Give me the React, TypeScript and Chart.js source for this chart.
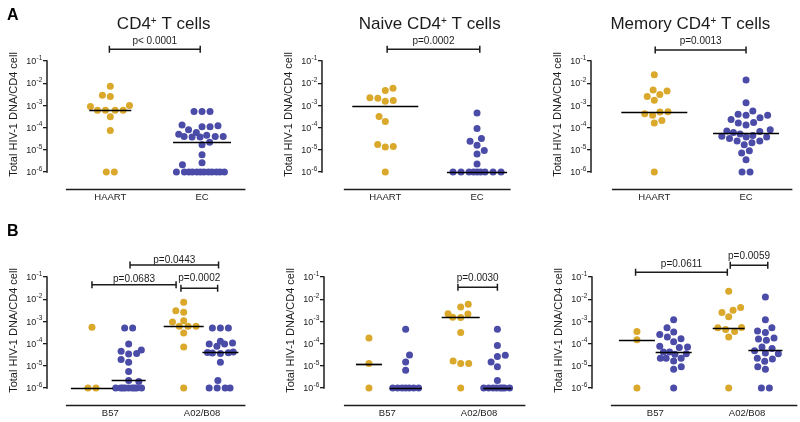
import React, { useEffect, useRef } from 'react';
import { Chart, registerables } from 'chart.js';

Chart.register(...registerables);

// ---------------- data ----------------
const Y_TICKS = [1e-1, 1e-2, 1e-3, 1e-4, 1e-5, 1e-6];
const Y_TITLE = 'Total HIV-1 DNA/CD4 cell';
const A_CATEGORIES = ['HAART', 'EC'];
const B_CATEGORIES = ['B57', 'A02/B08'];
const PANEL_TITLES = ['CD4+ T cells', 'Naive CD4+ T cells', 'Memory CD4+ T cells'];
const PANEL_LETTERS = ['A', 'B'];

const A_P = ['p< 0.0001', 'p=0.0002', 'p=0.0013'];
const B1_P = ['p=0.0683', 'p=0.0002', 'p=0.0443'];
const B2_P = ['p=0.0030'];
const B3_P = ['p=0.0611', 'p=0.0059'];

// Panel A – total CD4
const A1_HAART = [7.2e-3, 2.9e-3, 2.5e-3, 1.0e-3, 9e-4, 6e-4, 6e-4, 6e-4, 6e-4, 3.1e-4, 7.4e-5, 1e-6, 1e-6];
const A1_EC = [5.3e-4, 5.3e-4, 5.3e-4, 1.3e-4, 1.2e-4, 1.1e-4, 1.1e-4, 8e-5, 6e-5, 5e-5, 4.5e-5, 4e-5, 4e-5, 4e-5, 3.8e-5, 3.8e-5,
  2.2e-5, 1.7e-5, 6e-6, 2.6e-6, 2.1e-6, 1e-6, 1e-6, 1e-6, 1e-6, 1e-6, 1e-6, 1e-6, 1e-6, 1e-6, 1e-6, 1e-6, 1e-6];
// Panel A – naive
const A2_HAART = [5.9e-3, 4.7e-3, 2.2e-3, 2.1e-3, 1.65e-3, 1.55e-3, 3.2e-4, 1.9e-4, 1.75e-5, 1.4e-5, 1.35e-5, 1e-6];
const A2_EC = [4.6e-4, 9.1e-5, 3.2e-5, 2.4e-5, 1.6e-5, 9.3e-6, 6.5e-6, 2.3e-6, 1e-6, 1e-6, 1e-6, 1e-6, 1e-6, 1e-6, 1e-6, 1e-6, 1e-6];
// Panel A – memory
const A3_HAART = [2.4e-2, 4.9e-3, 4.4e-3, 3.1e-3, 2.5e-3, 1.7e-3, 5.2e-4, 5.0e-4, 4.2e-4, 3.6e-4, 2.1e-4, 1.6e-4, 1e-6];
const A3_EC = [1.4e-2, 1.3e-3, 5.6e-4, 4e-4, 3.6e-4, 3.6e-4, 2.8e-4, 2.3e-4, 1.7e-4, 1.6e-4, 1.3e-4, 8e-5, 7e-5, 6.6e-5, 6e-5,
  5.2e-5, 4.4e-5, 4.1e-5, 3.8e-5, 3.8e-5, 3.2e-5, 2.5e-5, 2.5e-5, 2.1e-5, 1.7e-5, 9e-6, 7.2e-6, 3.6e-6, 1e-6, 1e-6];

// Panel B – total CD4
const B1_B57_HAART = [5.4e-4, 1e-6, 1e-6];
const B1_B57_EC = [5e-4, 5e-4, 9.5e-5, 5.1e-5, 4.5e-5, 3.6e-5, 3.4e-5, 1.9e-5, 1.45e-5, 5.5e-6, 2.2e-6, 1.95e-6,
  1e-6, 1e-6, 1e-6, 1e-6, 1e-6, 1e-6, 1e-6, 1e-6, 1e-6];
const B1_A02_HAART = [7.2e-3, 3e-3, 2.6e-3, 1.07e-3, 9.3e-4, 6e-4, 6e-4, 6e-4, 3e-4, 7e-5, 1e-6];
const B1_A02_EC = [5e-4, 5e-4, 5e-4, 1.26e-4, 1.07e-4, 9.5e-5, 9.5e-5, 7.6e-5, 4.2e-5, 4e-5, 3.9e-5, 3.8e-5, 3.6e-5, 1.45e-5,
  2.2e-6, 1e-6, 1e-6, 1e-6, 1e-6];
// Panel B – naive
const B2_B57_HAART = [1.8e-4, 1.26e-5, 1e-6];
const B2_B57_EC = [4.4e-4, 3.1e-5, 1.5e-5, 6.3e-6, 1e-6, 1e-6, 1e-6, 1e-6, 1e-6, 1e-6, 1e-6];
const B2_A02_HAART = [5.9e-3, 4.5e-3, 2.2e-3, 2.15e-3, 1.55e-3, 1.5e-3, 3.2e-4, 1.65e-5, 1.26e-5, 1.26e-5, 1e-6];
const B2_A02_EC = [4.4e-4, 8.3e-5, 3e-5, 2.6e-5, 1.5e-5, 9e-6, 2.2e-6, 1e-6, 1e-6, 1e-6, 1e-6, 1e-6, 1e-6, 1e-6, 1e-6];
// Panel B – memory
const B3_B57_HAART = [3.5e-4, 1.5e-4, 1e-6];
const B3_B57_EC = [1.2e-3, 5.2e-4, 3.3e-4, 2.6e-4, 2e-4, 1.66e-4, 1.2e-4, 7.6e-5, 7e-5, 6.6e-5, 4.2e-5, 4.2e-5, 3.5e-5, 3.3e-5,
  2.2e-5, 2.2e-5, 2.2e-5, 1.65e-5, 9e-6, 7e-6, 1e-6];
const B3_A02_HAART = [2.3e-2, 4.2e-3, 3.2e-3, 2.5e-3, 1.6e-3, 5.3e-4, 5.2e-4, 4.3e-4, 3.5e-4, 2e-4, 1e-6];
const B3_A02_EC = [1.26e-2, 1.2e-3, 5.2e-4, 3.7e-4, 3.2e-4, 1.8e-4, 1.6e-4, 1.4e-4, 7e-5, 6e-5, 4.8e-5, 3.8e-5, 3.5e-5,
  2.2e-5, 2e-5, 1.6e-5, 9e-6, 7e-6, 1e-6, 1e-6];

// ---------------- style / layout ----------------
const FONT = '"Liberation Sans", Arial, Helvetica, sans-serif';
const GOLD = '#DAA82B';
const BLUE = '#4B4BA8';
const INK = '#1c1c1c';

const W = 256;        // canvas width
const AX = 47;        // y axis x (local)
const TOP = 61;       // pixel of 1e-1
const BOTTOM = 189;   // pixel of x-axis line
const XH = 17;        // x scale height
const UNIT = 93;      // px per category
const X_MIN = -0.69;
const X_MAX = 1.55;
const Y_MIN_EXP = -6.766;
const DOT_R = 3.5;
const DOT_GAP = 8;

type Col = { values: number[]; x: number; color: string; half: number };
type Br = { x0: number; x1: number; y: number; ty: number; label: string };
type Panel = {
  left: number; top: number; height: number;
  letter: string | null; title: string | null; titleX: number;
  categories: string[]; columns: Col[]; brackets: Br[];
  ext: [number, number]; swarmHalf: number;
};

const PANELS: Panel[] = [
  {
    left: 0, top: 0, height: 210, letter: PANEL_LETTERS[0], title: PANEL_TITLES[0], titleX: 163.7,
    categories: A_CATEGORIES,
    columns: [
      { values: A1_HAART, x: 0, color: GOLD, half: 21 },
      { values: A1_EC, x: 1, color: BLUE, half: 29 },
    ],
    brackets: [{ x0: -0.01, x1: 0.98, y: 49.3, ty: 41.7, label: A_P[0] }],
    ext: [-0.484, 1.473], swarmHalf: 24,
  },
  {
    left: 275, top: 0, height: 210, letter: null, title: PANEL_TITLES[1], titleX: 154.7,
    categories: A_CATEGORIES,
    columns: [
      { values: A2_HAART, x: 0, color: GOLD, half: 33 },
      { values: A2_EC, x: 1, color: BLUE, half: 30 },
    ],
    brackets: [{ x0: 0.02, x1: 1.03, y: 49.3, ty: 41.7, label: A_P[1] }],
    ext: [-0.452, 1.366], swarmHalf: 24,
  },
  {
    left: 544, top: 0, height: 210, letter: null, title: PANEL_TITLES[2], titleX: 146.3,
    categories: A_CATEGORIES,
    columns: [
      { values: A3_HAART, x: 0, color: GOLD, half: 33 },
      { values: A3_EC, x: 1, color: BLUE, half: 33 },
    ],
    brackets: [{ x0: 0.01, x1: 1.0, y: 50, ty: 41.7, label: A_P[2] }],
    ext: [-0.462, 1.505], swarmHalf: 25,
  },
  {
    left: 0, top: 216, height: 206, letter: PANEL_LETTERS[1], title: null, titleX: 0,
    categories: B_CATEGORIES,
    columns: [
      { values: B1_B57_HAART, x: -0.2, color: GOLD, half: 21 },
      { values: B1_B57_EC, x: 0.2, color: BLUE, half: 17 },
      { values: B1_A02_HAART, x: 0.8, color: GOLD, half: 20 },
      { values: B1_A02_EC, x: 1.2, color: BLUE, half: 18 },
    ],
    brackets: [
      { x0: -0.2, x1: 0.717, y: 68.7, ty: 63, label: B1_P[0] },
      { x0: 0.77, x1: 1.17, y: 72.3, ty: 62.3, label: B1_P[1] },
      { x0: 0.215, x1: 1.18, y: 49, ty: 44.5, label: B1_P[2] },
    ],
    ext: [-0.484, 1.473], swarmHalf: 13,
  },
  {
    left: 277, top: 216, height: 206, letter: null, title: null, titleX: 0,
    categories: B_CATEGORIES,
    columns: [
      { values: B2_B57_HAART, x: -0.2, color: GOLD, half: 13 },
      { values: B2_B57_EC, x: 0.2, color: BLUE, half: 16 },
      { values: B2_A02_HAART, x: 0.8, color: GOLD, half: 19 },
      { values: B2_A02_EC, x: 1.2, color: BLUE, half: 14 },
    ],
    brackets: [{ x0: 0.77, x1: 1.2, y: 71.3, ty: 62.3, label: B2_P[0] }],
    ext: [-0.473, 1.505], swarmHalf: 13,
  },
  {
    left: 545, top: 216, height: 206, letter: null, title: null, titleX: 0,
    categories: B_CATEGORIES,
    columns: [
      { values: B3_B57_HAART, x: -0.2, color: GOLD, half: 18 },
      { values: B3_B57_EC, x: 0.2, color: BLUE, half: 18 },
      { values: B3_A02_HAART, x: 0.8, color: GOLD, half: 16 },
      { values: B3_A02_EC, x: 1.2, color: BLUE, half: 17 },
    ],
    brackets: [
      { x0: -0.215, x1: 0.785, y: 56.3, ty: 48, label: B3_P[0] },
      { x0: 0.817, x1: 1.226, y: 49.3, ty: 40.7, label: B3_P[1] },
    ],
    ext: [-0.484, 1.548], swarmHalf: 14,
  },
];

// ---------------- helpers ----------------
function median(vals: number[]): number {
  const s = [...vals].sort((a, b) => a - b);
  const n = s.length;
  return n % 2 ? s[(n - 1) / 2] : (s[n / 2 - 1] + s[n / 2]) / 2;
}

// beeswarm offsets (px) for points at pixel heights pys
function swarm(values: number[], pys: number[], d: number, maxHalf: number): number[] {
  const order = pys.map((_, i) => i).sort((a, b) => pys[b] - pys[a]);
  const placed: { x: number; y: number }[] = [];
  const out = new Array(pys.length).fill(0);
  for (const i of order) {
    const py = pys[i];
    let dd = d;
    let chosen: number | null = null;
    while (chosen === null) {
      const cands = [0];
      for (const q of placed) {
        const dy = Math.abs(q.y - py);
        if (dy < dd) {
          const dx = Math.sqrt(dd * dd - dy * dy);
          cands.push(q.x + dx, q.x - dx);
        }
      }
      const ok = cands.filter(
        (c) => Math.abs(c) <= maxHalf + 1e-6 &&
          placed.every((q) => (c - q.x) ** 2 + (py - q.y) ** 2 >= dd * dd - 1e-3)
      );
      if (ok.length) {
        const bal = placed.reduce((s, q) => s + q.x, 0);
        ok.sort((a, b) => {
          const da = Math.abs(a) - Math.abs(b);
          if (Math.abs(da) > 0.01) return da;
          return bal > 0 ? a - b : b - a;
        });
        chosen = ok[0];
      } else {
        dd *= 0.85;
        if (dd < 0.5) chosen = 0;
      }
    }
    placed.push({ x: chosen, y: py });
    out[i] = chosen;
  }
  // center rows of exact ties when possible
  const groups = new Map<number, number[]>();
  values.forEach((v, i) => { const g = groups.get(v) || []; g.push(i); groups.set(v, g); });
  groups.forEach((idx) => {
    if (idx.length < 2) return;
    const mean = idx.reduce((s, i) => s + out[i], 0) / idx.length;
    if (Math.abs(mean) < 0.01) return;
    const shifted = idx.map((i) => out[i] - mean);
    const others = out.map((x, k) => ({ x, y: pys[k], k })).filter((o) => !idx.includes(o.k));
    const clash = idx.some((i, j) => others.some((o) => (shifted[j] - o.x) ** 2 + (pys[i] - o.y) ** 2 < (d * 0.9) ** 2));
    if (!clash) idx.forEach((i, j) => { out[i] = shifted[j]; });
  });
  return out;
}

function makePlugin(p: Panel) {
  return {
    id: 'deco',
    afterDatasetsDraw(chart: any) {
      const ctx = chart.ctx as CanvasRenderingContext2D;
      const xs = chart.scales.x, ys = chart.scales.y;
      ctx.save();
      ctx.strokeStyle = '#000';
      ctx.lineWidth = 1.7;
      p.columns.forEach((c) => {
        const m = median(c.values);
        const py = Math.round(ys.getPixelForValue(m)) + 0.5;
        const px = xs.getPixelForValue(c.x);
        ctx.beginPath();
        ctx.moveTo(px - c.half, py);
        ctx.lineTo(px + c.half, py);
        ctx.stroke();
      });
      ctx.restore();
    },
    afterDraw(chart: any) {
      const ctx = chart.ctx as CanvasRenderingContext2D;
      const xs = chart.scales.x, ys = chart.scales.y;
      const ax = chart.chartArea.left;
      ctx.save();
      ctx.strokeStyle = INK;
      ctx.fillStyle = INK;
      // y axis line
      const yTop = ys.getPixelForValue(Y_TICKS[0]);
      const yBot = ys.getPixelForValue(Y_TICKS[Y_TICKS.length - 1]);
      ctx.lineWidth = 1.5;
      ctx.beginPath();
      ctx.moveTo(ax, yTop - 0.7);
      ctx.lineTo(ax, yBot + 0.7);
      ctx.stroke();
      // y tick labels 10^n
      Y_TICKS.forEach((v) => {
        const py = ys.getPixelForValue(v);
        const exp = String(Math.round(Math.log10(v)));
        ctx.font = `6.5px ${FONT}`;
        const we = ctx.measureText(exp).width;
        ctx.font = `9px ${FONT}`;
        const wb = ctx.measureText('10').width;
        const right = ax - 5;
        ctx.textAlign = 'left';
        ctx.textBaseline = 'middle';
        ctx.fillText('10', right - we - wb, py + 0.8);
        ctx.font = `6.5px ${FONT}`;
        ctx.fillText(exp, right - we + 0.3, py - 3);
      });
      // y title
      ctx.save();
      ctx.translate(ax - 33, (yTop + yBot) / 2 - 2);
      ctx.rotate(-Math.PI / 2);
      ctx.font = `11px ${FONT}`;
      ctx.textAlign = 'center';
      ctx.textBaseline = 'middle';
      ctx.fillText(Y_TITLE, 0, 0);
      ctx.restore();
      // x axis line
      const xl = Math.round(chart.chartArea.bottom) + 0.5;
      ctx.lineWidth = 1.5;
      ctx.beginPath();
      ctx.moveTo(xs.getPixelForValue(p.ext[0]), xl);
      ctx.lineTo(xs.getPixelForValue(p.ext[1]), xl);
      ctx.stroke();
      // brackets
      p.brackets.forEach((b) => {
        const x0 = xs.getPixelForValue(b.x0), x1 = xs.getPixelForValue(b.x1);
        ctx.lineWidth = 1.5;
        ctx.beginPath();
        ctx.moveTo(x0, b.y); ctx.lineTo(x1, b.y);
        ctx.moveTo(x0, b.y - 3.5); ctx.lineTo(x0, b.y + 3.5);
        ctx.moveTo(x1, b.y - 3.5); ctx.lineTo(x1, b.y + 3.5);
        ctx.stroke();
        ctx.font = `10px ${FONT}`;
        ctx.textAlign = 'center';
        ctx.textBaseline = 'middle';
        ctx.fillText(b.label, (x0 + x1) / 2, b.ty);
      });
      // title with superscript +
      if (p.title) {
        const k = p.title.indexOf('+');
        const a = p.title.slice(0, k), sup = '+', rest = p.title.slice(k + 1);
        ctx.font = `17px ${FONT}`;
        const wa = ctx.measureText(a).width, wr = ctx.measureText(rest).width;
        ctx.font = `10px ${FONT}`;
        const ws = ctx.measureText(sup).width;
        let x = p.titleX - (wa + ws + wr) / 2;
        ctx.textAlign = 'left';
        ctx.textBaseline = 'alphabetic';
        ctx.font = `17px ${FONT}`;
        ctx.fillText(a, x, 28.5);
        x += wa;
        ctx.font = `10px ${FONT}`;
        ctx.fillText(sup, x, 24);
        x += ws;
        ctx.font = `17px ${FONT}`;
        ctx.fillText(rest, x, 28.5);
      }
      if (p.letter) {
        ctx.font = `bold 16px ${FONT}`;
        ctx.textAlign = 'left';
        ctx.textBaseline = 'alphabetic';
        ctx.fillStyle = '#000';
        ctx.fillText(p.letter, 7, 19.5);
      }
      ctx.restore();
    },
  };
}

function PanelChart({ p }: { p: Panel }) {
  const ref = useRef<HTMLCanvasElement>(null);
  useEffect(() => {
    const canvas = ref.current;
    if (!canvas) return;
    const chart = new Chart(canvas, {
      type: 'scatter',
      data: {
        datasets: p.columns.map((c) => ({
          data: c.values.map((v) => ({ x: c.x, y: v })),
          backgroundColor: c.color,
          borderWidth: 0,
          pointRadius: DOT_R,
          pointHoverRadius: DOT_R,
        })),
      },
      options: {
        animation: false,
        responsive: false,
        devicePixelRatio: 1,
        events: [],
        layout: {
          padding: {
            top: TOP,
            bottom: p.height - BOTTOM - XH,
            left: 0,
            right: W - AX - (X_MAX - X_MIN) * UNIT,
          },
        },
        plugins: { legend: { display: false }, tooltip: { enabled: false } },
        scales: {
          x: {
            type: 'linear',
            position: 'bottom',
            min: X_MIN,
            max: X_MAX,
            afterBuildTicks: (s: any) => { s.ticks = p.categories.map((_, i) => ({ value: i })); },
            afterFit: (s: any) => { s.height = XH; },
            grid: { display: false, drawTicks: false },
            border: { display: false },
            ticks: {
              callback: (v: any) => p.categories[Math.round(Number(v))],
              font: { family: FONT, size: 9.5 },
              color: INK,
              padding: 3,
              maxRotation: 0,
              autoSkip: false,
            },
          },
          y: {
            type: 'logarithmic',
            position: 'left',
            min: Math.pow(10, Y_MIN_EXP),
            max: Y_TICKS[0],
            afterBuildTicks: (s: any) => { s.ticks = Y_TICKS.map((v) => ({ value: v })); },
            afterFit: (s: any) => { s.width = AX; },
            grid: { drawOnChartArea: false, drawTicks: true, tickLength: 4, color: INK, lineWidth: 1.3 },
            border: { display: false },
            ticks: { display: false },
          },
        },
      } as any,
      plugins: [makePlugin(p)],
    });
    const xs: any = chart.scales.x, ys: any = chart.scales.y;
    const unit = xs.getPixelForValue(1) - xs.getPixelForValue(0);
    p.columns.forEach((c, di) => {
      const pys = c.values.map((v) => ys.getPixelForValue(v));
      const offs = swarm(c.values, pys, DOT_GAP, p.swarmHalf);
      (chart.data.datasets[di] as any).data = c.values.map((v, i) => ({ x: c.x + offs[i] / unit, y: v }));
    });
    chart.update('none');
    return () => chart.destroy();
  }, [p]);
  return (
    <canvas
      ref={ref}
      width={W}
      height={p.height}
      style={{ position: 'absolute', left: p.left, top: p.top, width: W, height: p.height }}
    />
  );
}

export default function App() {
  return (
    <div style={{ position: 'absolute', left: 0, top: 0, width: 800, height: 422, overflow: 'hidden', background: '#fff' }}>
      {PANELS.map((p, i) => <PanelChart key={i} p={p} />)}
    </div>
  );
}
